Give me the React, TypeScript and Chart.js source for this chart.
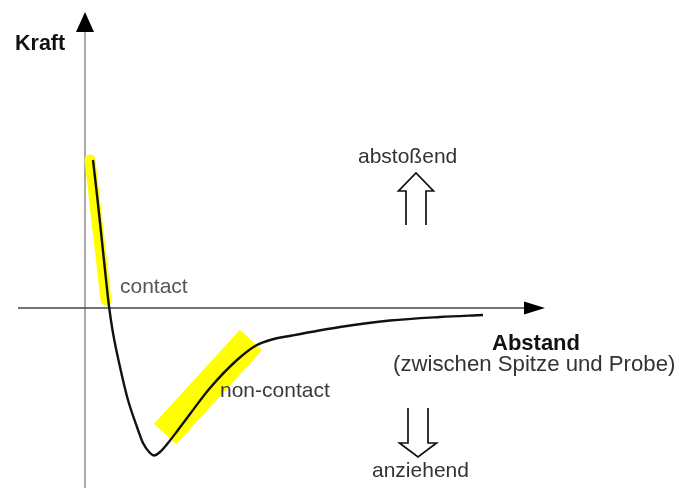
import React, { useEffect, useRef } from "react";
import { Chart, registerables } from "chart.js";

Chart.register(...registerables);

// Force-distance curve (x = Abstand, y = Kraft), arbitrary units
const distance = [0.7, 1.1, 1.5, 1.9, 2.2, 2.35, 2.7, 3.4, 4.2, 5.1, 5.7, 6.4, 6.8, 7.4, 8.2, 9.2, 10.4, 12.4, 15.1, 17.0, 18.6, 20.6, 25.4, 30.4, 35.4, 39.7];
const force = [14.8, 11.3, 7.6, 3.8, 1.0, -0.2, -2.5, -5.9, -9.2, -11.9, -13.5, -14.5, -14.75, -14.4, -13.5, -12.2, -10.6, -8.0, -5.2, -3.75, -3.15, -2.75, -1.9, -1.25, -0.9, -0.7];

// highlighted regions (start / end along the curve)
const contactX = [0.4, 2.0];
const contactY = [14.8, 0.8];
const nonContactX = [7.9, 16.5];
const nonContactY = [-12.6, -3.2];

// axes
const xAxisX = [-6.8, 44.0];
const xAxisY = [0, 0];
const yAxisX = [-0.1, -0.1];
const yAxisY = [28.0, -18.0];

const X_MIN = -8.6;
const X_MAX = 59.3;
const Y_MIN = -18.0;
const Y_MAX = 30.8;

type Label = { text: string; x: number; y: number; bold: boolean; size: number; color: string };
const labels: Label[] = [
  { text: "Kraft", x: -7.1, y: 25.8, bold: true, size: 21.5, color: "#111" },
  { text: "contact", x: 3.4, y: 1.5, bold: false, size: 21, color: "#555" },
  { text: "abstoßend", x: 27.2, y: 14.5, bold: false, size: 21, color: "#333" },
  { text: "Abstand", x: 40.6, y: -4.2, bold: true, size: 22, color: "#111" },
  { text: "(zwischen Spitze und Probe)", x: 30.7, y: -6.3, bold: false, size: 22.2, color: "#333" },
  { text: "non-contact", x: 13.4, y: -8.9, bold: false, size: 21, color: "#3a3a3a" },
  { text: "anziehend", x: 28.6, y: -16.9, bold: false, size: 21, color: "#333" },
];

// hollow direction arrows: cx, tip, headBase, shaftEnd, headHalf, shaftHalf
const hollowArrows = [
  { cx: 33.0, tip: 13.5, head: 11.7, end: 8.3, headHalf: 1.75, shaftHalf: 1.0 },
  { cx: 33.2, tip: -14.9, head: -13.5, end: -10.0, headHalf: 1.85, shaftHalf: 1.0 },
];

const pts = (xs: number[], ys: number[]) => xs.map((x, i) => ({ x, y: ys[i] }));

const decorPlugin = {
  id: "decor",
  afterDatasetsDraw(chart: any) {
    const ctx = chart.ctx as CanvasRenderingContext2D;
    const sx = chart.scales.x;
    const sy = chart.scales.y;
    const px = (v: number) => sx.getPixelForValue(v);
    const py = (v: number) => sy.getPixelForValue(v);
    ctx.save();
    // axis arrowheads
    ctx.fillStyle = "#000";
    ctx.beginPath();
    ctx.moveTo(px(yAxisX[0]), py(29.6));
    ctx.lineTo(px(yAxisX[0] - 0.9), py(27.6));
    ctx.lineTo(px(yAxisX[0] + 0.9), py(27.6));
    ctx.closePath();
    ctx.fill();
    ctx.beginPath();
    ctx.moveTo(px(45.9), py(0));
    ctx.lineTo(px(43.8), py(0.65));
    ctx.lineTo(px(43.8), py(-0.65));
    ctx.closePath();
    ctx.fill();
    // hollow arrows
    ctx.strokeStyle = "#111";
    ctx.lineWidth = 1.7;
    ctx.lineJoin = "miter";
    hollowArrows.forEach((a) => {
      ctx.beginPath();
      ctx.moveTo(px(a.cx - a.shaftHalf), py(a.end));
      ctx.lineTo(px(a.cx - a.shaftHalf), py(a.head));
      ctx.lineTo(px(a.cx - a.headHalf), py(a.head));
      ctx.lineTo(px(a.cx), py(a.tip));
      ctx.lineTo(px(a.cx + a.headHalf), py(a.head));
      ctx.lineTo(px(a.cx + a.shaftHalf), py(a.head));
      ctx.lineTo(px(a.cx + a.shaftHalf), py(a.end));
      ctx.stroke();
    });
    // labels
    ctx.textAlign = "left";
    ctx.textBaseline = "alphabetic";
    labels.forEach((l) => {
      ctx.font = `${l.bold ? "bold " : ""}${l.size}px "Liberation Sans", Arial, sans-serif`;
      ctx.fillStyle = l.color;
      ctx.fillText(l.text, px(l.x), py(l.y));
    });
    ctx.restore();
  },
};

export default function App() {
  const ref = useRef<HTMLCanvasElement>(null);
  useEffect(() => {
    if (!ref.current) return;
    const chart = new Chart(ref.current, {
      type: "scatter",
      data: {
        datasets: [
          {
            data: pts(distance, force),
            showLine: true,
            borderColor: "#111",
            borderWidth: 2.4,
            pointRadius: 0,
            cubicInterpolationMode: "monotone",
            order: 0,
          } as any,
          {
            data: pts(xAxisX, xAxisY),
            showLine: true,
            borderColor: "#444",
            borderWidth: 1.5,
            pointRadius: 0,
            order: 1,
          },
          {
            data: pts(contactX, contactY),
            showLine: true,
            borderColor: "#ffff00",
            borderWidth: 11,
            borderCapStyle: "round",
            pointRadius: 0,
            order: 2,
          },
          {
            data: pts(nonContactX, nonContactY),
            showLine: true,
            borderColor: "#ffff00",
            borderWidth: 30,
            borderCapStyle: "butt",
            pointRadius: 0,
            order: 2,
          },
          {
            data: pts(yAxisX, yAxisY),
            showLine: true,
            borderColor: "#aaa",
            borderWidth: 2,
            pointRadius: 0,
            order: 3,
          },
        ],
      },
      options: {
        animation: false,
        responsive: false,
        maintainAspectRatio: false,
        layout: { padding: 0 },
        plugins: { legend: { display: false }, tooltip: { enabled: false } },
        events: [],
        scales: {
          x: { type: "linear", min: X_MIN, max: X_MAX, display: false },
          y: { type: "linear", min: Y_MIN, max: Y_MAX, display: false },
        },
      },
      plugins: [decorPlugin],
    });
    return () => chart.destroy();
  }, []);
  return (
    <div style={{ position: "absolute", left: 0, top: 0, width: 679, height: 488, background: "#fff" }}>
      <canvas ref={ref} width={679} height={488} style={{ width: 679, height: 488 }} />
    </div>
  );
}
